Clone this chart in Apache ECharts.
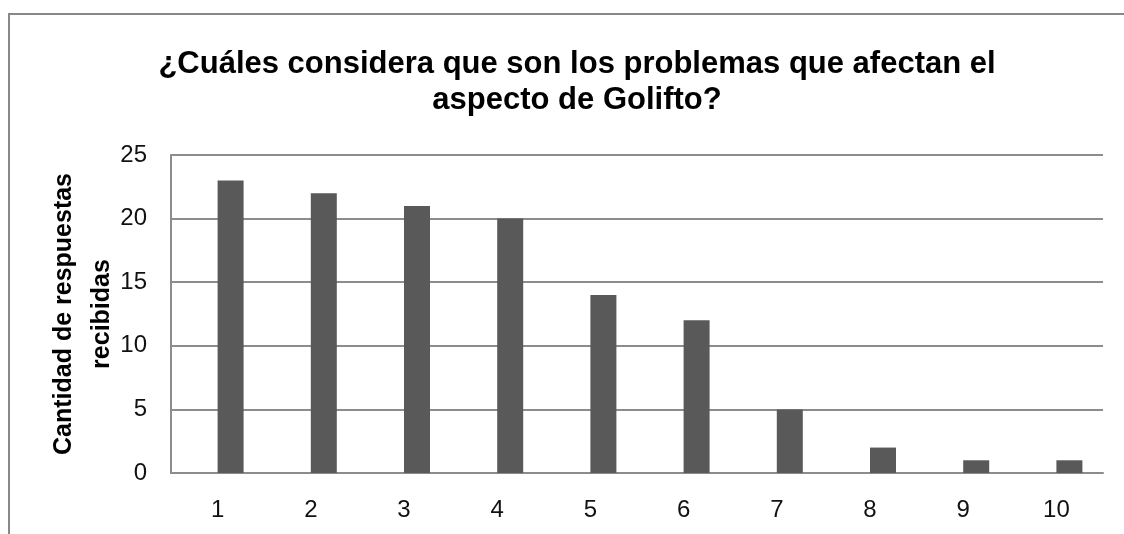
<!DOCTYPE html>
<html>
<head>
<meta charset="utf-8">
<script src="https://cdn.jsdelivr.net/npm/echarts@6/dist/echarts.min.js"></script>
<style>
  html, body { margin: 0; padding: 0; background: #fff; }
  #chart { width: 1124px; height: 534px; }
</style>
</head>
<body>
<div id="chart"></div>
<script>
// Problem number (1–10) and number of answers received for each
const categories = ['1', '2', '3', '4', '5', '6', '7', '8', '9', '10'];
const respuestas = [23, 22, 21, 20, 14, 12, 5, 2, 1, 1];
// Empty companion series: keeps the bars sitting just right of each category centre
const vacio = ['-', '-', '-', '-', '-', '-', '-', '-', '-', '-'];
const yTicks = { min: 0, max: 25, interval: 5 };

const FONT = '"Liberation Sans", Arial, sans-serif';
const GRID_COLOR = '#8c8c8c';

const chart = echarts.init(document.getElementById('chart'), null, { renderer: 'canvas' });

chart.setOption({
  animation: false,
  backgroundColor: '#ffffff',
  title: {
    text: '¿Cuáles considera que son los problemas que afectan el\naspecto de Golifto?',
    left: 572,
    textAlign: 'center',
    top: 41,
    textStyle: {
      fontFamily: FONT,
      fontSize: 31,
      fontWeight: 'bold',
      color: '#000',
      lineHeight: 36
    }
  },
  graphic: [{
    type: 'rect',
    shape: { x: 9, y: 14, width: 1200, height: 600 },
    style: { fill: 'none', stroke: '#888888', lineWidth: 2 },
    silent: true
  }],
  grid: { left: 171, right: 21, top: 155, bottom: 61, containLabel: false },
  xAxis: {
    type: 'category',
    data: categories,
    axisTick: { show: false },
    axisLine: { show: true, lineStyle: { color: GRID_COLOR, width: 2 } },
    axisLabel: { fontFamily: FONT, fontSize: 24, color: '#111', margin: 25 }
  },
  yAxis: {
    type: 'value',
    min: yTicks.min,
    max: yTicks.max,
    interval: yTicks.interval,
    name: 'Cantidad de respuestas\nrecibidas',
    nameLocation: 'middle',
    nameRotate: 90,
    nameGap: 50,
    nameMoveOverlap: false,
    nameTextStyle: {
      fontFamily: FONT,
      fontSize: 25,
      fontWeight: 'bold',
      color: '#000',
      lineHeight: 38
    },
    axisLine: { show: true, lineStyle: { color: GRID_COLOR, width: 2 } },
    axisTick: { show: false },
    axisLabel: { fontFamily: FONT, fontSize: 24, color: '#111', margin: 24 },
    splitLine: { show: true, lineStyle: { color: GRID_COLOR, width: 2 } }
  },
  series: [
    {
      type: 'bar',
      data: vacio,
      barWidth: 26,
      barGap: '0%',
      itemStyle: { color: '#595959' },
      silent: true
    },
    {
      name: 'Respuestas',
      type: 'bar',
      data: respuestas,
      barWidth: 26,
      barGap: '0%',
      itemStyle: { color: '#595959' }
    }
  ]
});
</script>
</body>
</html>
